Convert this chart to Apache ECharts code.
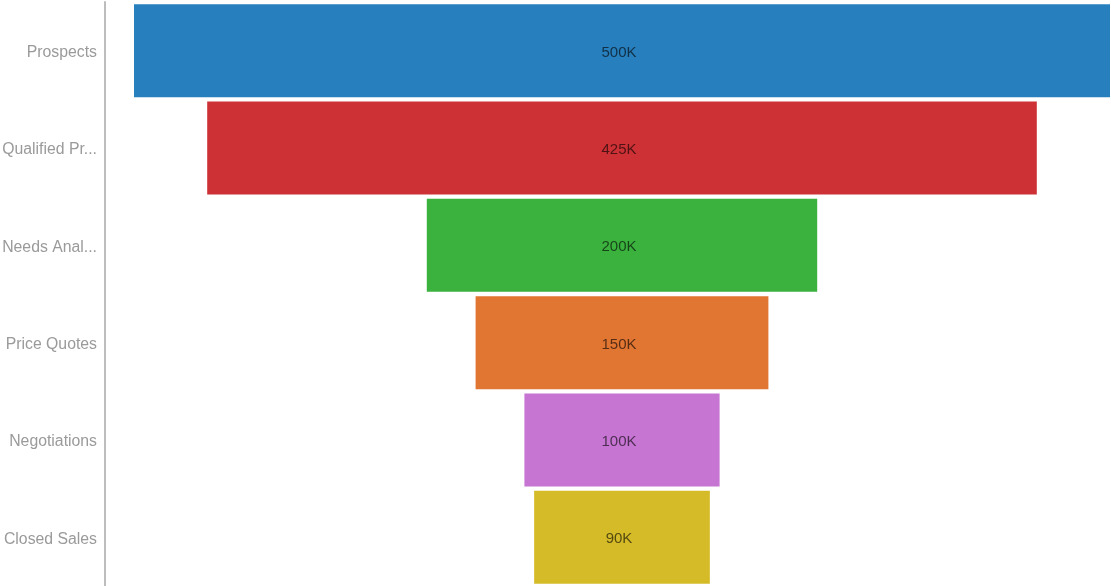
<!DOCTYPE html>
<html>
<head>
<meta charset="utf-8">
<script src="https://cdn.jsdelivr.net/npm/echarts@6/dist/echarts.min.js"></script>
<style>html,body{margin:0;padding:0;background:#fff;}#c{width:1111px;height:586px;}</style>
</head>
<body>
<div id="c"></div>
<script>
const categories = ['Prospects', 'Qualified Prospects', 'Needs Analysis', 'Price Quotes', 'Negotiations', 'Closed Sales'];
const values = [500, 425, 200, 150, 100, 90];
const colors = ['#287fbd', '#cd3135', '#3bb23e', '#e17532', '#c675d3', '#d5bb28'];
const maxValue = 500;

const offsets = values.map(v => (maxValue - v) / 2);

const chart = echarts.init(document.getElementById('c'), null, {renderer: 'canvas'});
chart.setOption({
  animation: false,
  backgroundColor: '#fff',
  grid: {left: 134, right: 1, top: 2, bottom: 0, containLabel: false, outerBoundsMode: 'none'},
  xAxis: {type: 'value', min: 0, max: maxValue, show: false},
  yAxis: {
    type: 'category',
    data: categories,
    inverse: true,
    offset: 29,
    axisLine: {show: true, onZero: false, lineStyle: {color: '#bdbdbd', width: 2}},
    axisTick: {show: false},
    axisLabel: {
      color: '#9a9a9a', fontSize: 15.8, fontFamily: 'Liberation Sans, Arial, sans-serif',
      margin: 8, width: 100, overflow: 'truncate', ellipsis: '...',
      lineHeight: 4, verticalAlign: 'top'
    }
  },
  series: [
    {
      type: 'bar', stack: 'f', data: offsets, barCategoryGap: '4.5%',
      itemStyle: {color: 'rgba(0,0,0,0)'}, silent: true
    },
    {
      type: 'bar', stack: 'f', barCategoryGap: '4.5%',
      data: values.map((v, i) => ({value: v, itemStyle: {color: colors[i]}})),
      label: {
        show: true, position: 'inside', formatter: p => p.value + 'K', offset: [-3, 2],
        color: 'rgba(0,0,0,0.62)', fontSize: 15, fontFamily: 'Liberation Sans, Arial, sans-serif'
      }
    }
  ]
});
</script>
</body>
</html>
